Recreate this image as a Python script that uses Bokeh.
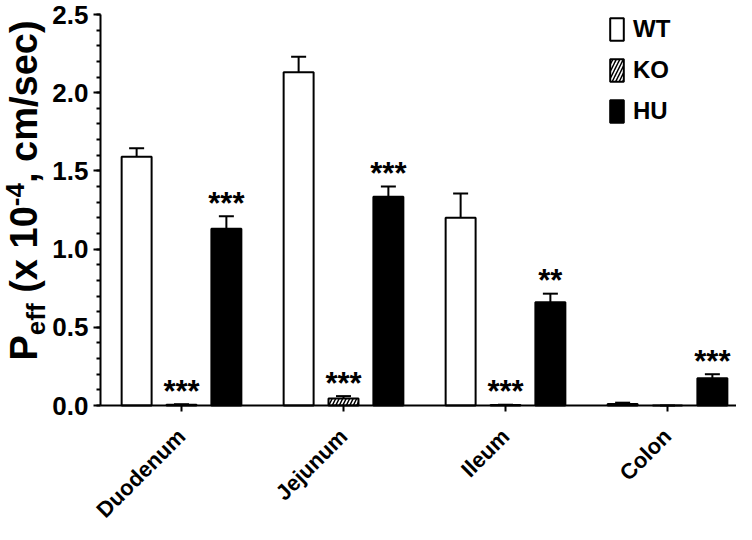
import math
from bokeh.plotting import figure
from bokeh.models import (ColumnDataSource, Range1d, Whisker, TeeHead, FixedTicker,
                          Legend, LegendItem, SingleIntervalTicker, NumeralTickFormatter)
from bokeh.core.properties import value
from bokeh.embed import file_html
from bokeh.resources import INLINE

# ---- data ----
segments = ["Duodenum", "Jejunum", "Ileum", "Colon"]
wt_mean = [1.59, 2.13, 1.20, 0.01]
wt_err = [0.055, 0.10, 0.155, 0.008]
ko_mean = [0.005, 0.045, 0.003, 0.0]
ko_err = [0.003, 0.015, 0.002, 0.0]
hu_mean = [1.13, 1.335, 0.66, 0.175]
hu_err = [0.08, 0.065, 0.055, 0.025]
ko_stars = ["***", "***", "***", ""]
hu_stars = ["***", "***", "**", "***"]
y_ticks = [0.0, 0.5, 1.0, 1.5, 2.0, 2.5]

# y-axis title pieces: P_eff (x 10^-4, cm/sec)
title_texts = ["P", "eff", "(x 10", "-4", ", cm/sec)"]
title_kinds = ["main", "sub", "main", "sup", "main"]

FONT = "Liberation Sans"
WIDTH, H = 736, 524
Y_TOP_PX, Y_ZERO_PX = 14, 405     # pixel rows of y=2.5 and y=0
AXIS_PX = 100                     # pixel column of the y axis
CAT_PX = 162                      # pixels per category
x_lo = -AXIS_PX / CAT_PX
x_hi = (WIDTH - AXIS_PX) / CAT_PX
PX_Y = (Y_ZERO_PX - Y_TOP_PX) / (y_ticks[-1] - y_ticks[0])
y_hi = y_ticks[-1] + Y_TOP_PX / PX_Y
y_lo = y_ticks[0] - (H - Y_ZERO_PX) / PX_Y
centers = [i + 0.5 for i in range(len(segments))]

src = ColumnDataSource(dict(
    c=centers,
    wt=wt_mean, wt_top=[m + e for m, e in zip(wt_mean, wt_err)],
    ko=ko_mean, ko_top=[m + e for m, e in zip(ko_mean, ko_err)],
    hu=hu_mean, hu_top=[m + e for m, e in zip(hu_mean, hu_err)],
    ko_s=ko_stars, hu_s=hu_stars,
))

p = figure(width=WIDTH, height=H, x_range=Range1d(x_lo, x_hi),
           y_range=Range1d(y_lo, y_hi),
           output_backend="svg", toolbar_location=None,
           min_border=0, min_border_left=0, min_border_right=0,
           min_border_top=0, min_border_bottom=0)
p.outline_line_color = None
p.xgrid.grid_line_color = None
p.ygrid.grid_line_color = None

W = 0.185
OFF = 0.277
groups = [("wt", -OFF, "white", None), ("ko", 0.0, "white", "/"), ("hu", OFF, "black", None)]
renderers = {}
for key, off, fill, hatch in groups:
    src.data[key + "_x"] = [c + off for c in centers]
    kw = dict(hatch_pattern=hatch, hatch_color="black", hatch_weight=1.5, hatch_scale=7) if hatch else {}
    r = p.vbar(x=key + "_x", top=key, bottom=0, width=W, source=src, fill_color=fill,
               line_color="black", line_width=2, **kw)
    renderers[key] = r
    p.add_layout(Whisker(base=key + "_x", upper=key + "_top", lower=key, source=src,
                         line_color="black", line_width=2,
                         upper_head=TeeHead(size=15, line_color="black", line_width=2),
                         lower_head=None, level="glyph"))

for key in ["ko", "hu"]:
    p.text(x=key + "_x", y=key + "_top", text=key + "_s",
           source=src, text_align="center", text_baseline="alphabetic",
           y_offset=-13, text_font=value(FONT), text_font_style="bold",
           text_font_size="31px", text_color="black")

# ---- axes (placed at x=0 / y=0 inside the canvas) ----
ya = p.yaxis[0]
ya.fixed_location = 0
ya.bounds = (y_ticks[0], y_ticks[-1])
ya.ticker = SingleIntervalTicker(interval=0.5, num_minor_ticks=5)
ya.formatter = NumeralTickFormatter(format="0.0")
ya.axis_line_width = 2
ya.major_tick_line_width = 2
ya.minor_tick_line_width = 2
ya.major_tick_in = 0
ya.major_tick_out = 7
ya.minor_tick_in = 0
ya.minor_tick_out = 4
ya.major_label_text_font = FONT
ya.major_label_text_font_style = "bold"
ya.major_label_text_font_size = "26px"
ya.major_label_text_color = "black"
ya.major_label_standoff = 5

xa = p.xaxis[0]
xa.fixed_location = 0
xa.bounds = (0, x_hi)
xa.ticker = FixedTicker(ticks=centers, minor_ticks=[])
xa.major_label_overrides = {c: s for c, s in zip(centers, segments)}
xa.axis_line_width = 2
xa.major_tick_line_width = 2
xa.major_tick_in = 0
xa.major_tick_out = 6
xa.minor_tick_line_color = None
xa.major_label_orientation = math.pi / 4
xa.major_label_text_font = FONT
xa.major_label_text_font_style = "bold"
xa.major_label_text_font_size = "22px"
xa.major_label_text_color = "black"
xa.major_label_standoff = 21

# ---- y-axis title, left of the axis ----
MAIN_FS, SMALL_FS = 38, 26
em = {"P": 0.667, "eff": 1.222, "(x 10": 2.279, "-4": 0.889, ", cm/sec)": 4.28}
gap_before = {"(x 10": 0.278}
base_px = {"main": 37, "sub": 45, "sup": 24}   # wanted baseline columns
MID = 0.3465                                    # baseline distance below the text middle (em)
t_xoff, t_yoff, t_size = [], [], []
pos = 360
for t, k in zip(title_texts, title_kinds):
    fs = MAIN_FS if k == "main" else SMALL_FS
    pos -= gap_before.get(t, 0) * fs
    t_xoff.append(base_px[k] - MID * fs)
    t_yoff.append(pos - Y_ZERO_PX)
    t_size.append(f"{fs}px")
    pos -= em[t] * fs
tsrc = ColumnDataSource(dict(x=[x_lo] * len(title_texts), y=[0.0] * len(title_texts),
                             text=title_texts, xo=t_xoff, yo=t_yoff, fs=t_size))
p.text(x="x", y="y", text="text", x_offset="xo", y_offset="yo", text_font_size="fs",
       source=tsrc, angle=math.pi / 2, text_align="left", text_baseline="middle",
       text_font=value(FONT), text_font_style="bold", text_color="black")

# ---- legend ----
legend = Legend(items=[LegendItem(label="WT", renderers=[renderers["wt"]]),
                       LegendItem(label="KO", renderers=[renderers["ko"]]),
                       LegendItem(label="HU", renderers=[renderers["hu"]])],
                location=(608, H - 125), glyph_width=17, glyph_height=28,
                spacing=13, padding=0, margin=0, label_standoff=8,
                label_text_font=FONT, label_text_font_style="bold",
                label_text_font_size="24px", label_text_color="black",
                border_line_color=None, background_fill_alpha=0)
p.add_layout(legend)

open("out.html", "w").write(file_html(p, INLINE))
